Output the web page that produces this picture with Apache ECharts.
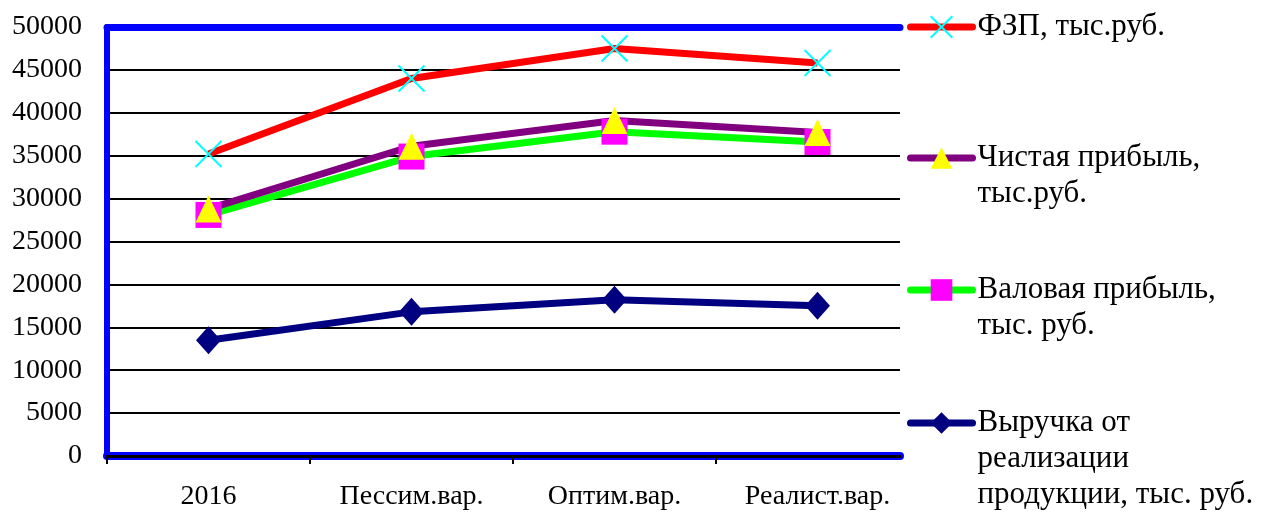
<!DOCTYPE html>
<html>
<head>
<meta charset="utf-8">
<script src="https://cdn.jsdelivr.net/npm/echarts@6/dist/echarts.min.js"></script>
<style>html,body{margin:0;padding:0;background:#fff;}#c{width:1264px;height:513px;}</style>
</head>
<body>
<div id="c"></div>
<script>
const categories = ['2016', 'Пессим.вар.', 'Оптим.вар.', 'Реалист.вар.'];
const fzp = [35200, 44000, 47500, 45800];
const netProfit = [28800, 36100, 39100, 37700];
const grossProfit = [28100, 34900, 37800, 36600];
const revenue = [13500, 16800, 18200, 17500];
const yTicks = [0, 5000, 10000, 15000, 20000, 25000, 30000, 35000, 40000, 45000, 50000];

const nameFzp = 'ФЗП, тыс.руб.';
const nameNet = 'Чистая прибыль, тыс.руб.';
const nameGross = 'Валовая прибыль, тыс. руб.';
const nameRev = 'Выручка от реализации продукции, тыс. руб.';

const FONT = 'Liberation Serif';
const FS = 28;
const LFS = 31;
const LH = 36;
const crossPath = 'path://M0,0L10,10M10,0L0,10';

function mkLegend(name, top, text) {
  return {
    data: [name],
    left: 907, top: top, orient: 'vertical', padding: 0,
    itemWidth: 62, itemHeight: 27, itemGap: 0,
    selectedMode: false,
    lineStyle: { width: 7, cap: 'round' },
    textStyle: { fontFamily: FONT, fontSize: LFS, color: '#000', lineHeight: LH },
    formatter: function () { return text; }
  };
}

const chart = echarts.init(document.getElementById('c'));
chart.setOption({
  animation: false,
  backgroundColor: '#fff',
  grid: [
    { left: 107, top: 27, width: 793, height: 429, containLabel: false },
    { left: 107, top: 27, width: 812, height: 429, containLabel: false }
  ],
  legend: [
    mkLegend(nameFzp, 9, 'ФЗП, тыс.руб.'),
    mkLegend(nameNet, 104, ' \nЧистая прибыль,\nтыс.руб.'),
    mkLegend(nameGross, 236, ' \nВаловая прибыль,\nтыс. руб.'),
    mkLegend(nameRev, 333, ' \n \nВыручка от\nреализации\nпродукции, тыс. руб.')
  ],
  xAxis: [
    { gridIndex: 0, type: 'value', position: 'bottom', min: 0, max: 1, z: 1,
      axisLine: { onZero: false, lineStyle: { color: '#0000FF', width: 8 } },
      axisTick: { show: false }, axisLabel: { show: false }, splitLine: { show: false } },
    { gridIndex: 0, type: 'value', position: 'bottom', min: 0, max: 1, z: 2,
      axisLine: { onZero: false, lineStyle: { color: '#000', width: 3 } },
      axisTick: { show: false }, axisLabel: { show: false }, splitLine: { show: false } },
    { gridIndex: 0, type: 'value', position: 'top', min: 0, max: 1, z: 2,
      axisLine: { onZero: false, lineStyle: { color: '#0000FF', width: 7 } },
      axisTick: { show: false }, axisLabel: { show: false }, splitLine: { show: false } },
    { gridIndex: 1, type: 'category', position: 'bottom', data: categories, boundaryGap: true,
      axisLine: { show: false, onZero: false }, axisTick: { show: false },
      axisLabel: { fontFamily: FONT, fontSize: FS, color: '#000', margin: 27, interval: 0 },
      splitLine: { show: false } },
    { gridIndex: 1, type: 'value', position: 'bottom', min: -0.5, max: 3.5, z: 3,
      axisLine: { show: false, onZero: false },
      axisTick: { show: true, customValues: [-0.5, 0.5, 1.5, 2.5], length: 8, lineStyle: { color: '#000', width: 2 } },
      axisLabel: { show: false }, splitLine: { show: false } }
  ],
  yAxis: [
    { gridIndex: 0, type: 'value', min: 0, max: 50000, interval: 5000, z: 2,
      axisLine: { show: true, onZero: false, lineStyle: { color: '#0000FF', width: 6 } },
      axisTick: { show: false },
      axisLabel: { fontFamily: FONT, fontSize: FS, color: '#000', margin: 25,
        customValues: yTicks, formatter: function (v) { return String(v); } },
      splitLine: { show: true, lineStyle: { color: '#000', width: 2 } } },
    { gridIndex: 1, type: 'value', min: 0, max: 50000, show: false }
  ],
  series: [
    { name: nameRev, type: 'line', xAxisIndex: 3, yAxisIndex: 1, data: revenue,
      symbol: 'diamond', symbolSize: [25, 28], showSymbol: true,
      lineStyle: { color: '#000080', width: 7 }, itemStyle: { color: '#000080' } },
    { name: nameGross, type: 'line', xAxisIndex: 3, yAxisIndex: 1, data: grossProfit,
      symbol: 'rect', symbolSize: 26, showSymbol: true,
      lineStyle: { color: '#00FF00', width: 7 }, itemStyle: { color: '#FF00FF' } },
    { name: nameNet, type: 'line', xAxisIndex: 3, yAxisIndex: 1, data: netProfit,
      symbol: 'triangle', symbolSize: [26, 27], showSymbol: true,
      lineStyle: { color: '#800080', width: 7 }, itemStyle: { color: '#FFFF00' } },
    { name: nameFzp, type: 'line', xAxisIndex: 3, yAxisIndex: 1, data: fzp,
      symbol: crossPath, symbolSize: 26, showSymbol: true,
      lineStyle: { color: '#FF0000', width: 7 },
      itemStyle: { color: 'rgba(0,0,0,0)', borderColor: '#00FFFF', borderWidth: 2 } }
  ]
});
</script>
</body>
</html>
